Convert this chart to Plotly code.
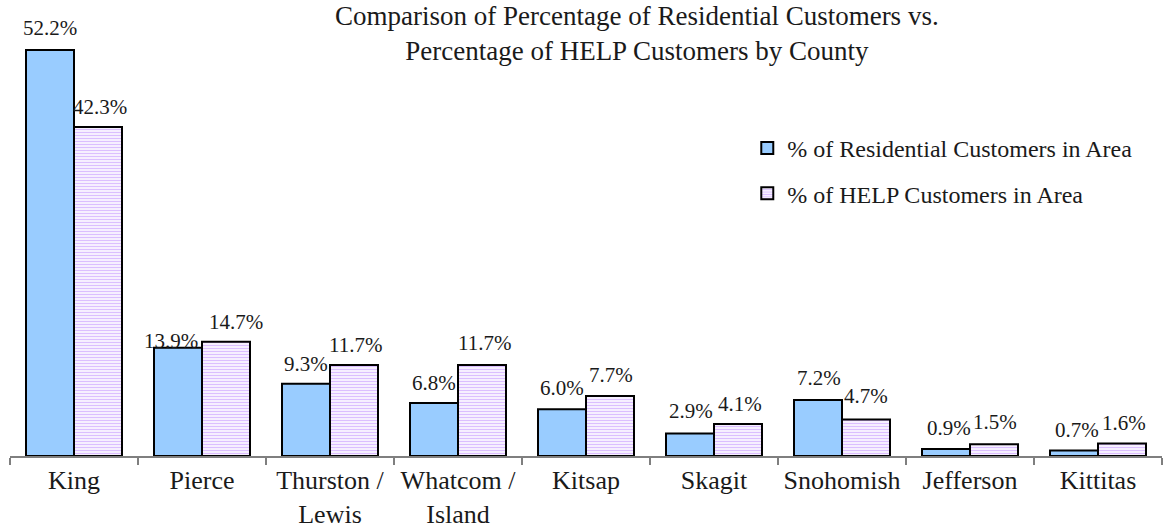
import plotly.graph_objects as go

counties = ["King", "Pierce", "Thurston /<br>Lewis", "Whatcom /<br>Island", "Kitsap",
            "Skagit", "Snohomish", "Jefferson", "Kittitas"]
residential = [52.2, 13.9, 9.3, 6.8, 6.0, 2.9, 7.2, 0.9, 0.7]
help_pct = [42.3, 14.7, 11.7, 11.7, 7.7, 4.1, 4.7, 1.5, 1.6]
series_names = ["% of Residential Customers in Area", "% of HELP Customers in Area"]
title_text = ("Comparison of Percentage of Residential Customers vs.<br>"
              "Percentage of HELP Customers by County")

# label placement tweaks (pixels) to mimic the original hand-placed labels
res_label_dx = [0, -7, 0, 0, 0, 1, 1, 3, 3]
res_label_dy = [22, 7, 20, 20, 21, 22, 22, 21, 21]
help_label_dx = [2, 10, 1, 2, 1, 2, 0, 1, 2]
help_label_dy = [20, 20, 20, 22, 21, 20, 23, 22, 21]

font_family = "Liberation Serif, Times New Roman, serif"
text_color = "#1a1a1a"
bar_half_offset = 24  # px: half of one bar width inside each group

fig = go.Figure()
fig.add_trace(go.Bar(
    x=counties, y=residential, name=series_names[0],
    marker=dict(color="#99ccff", line=dict(color="black", width=2)),
    legendgroup="a",
))
fig.add_trace(go.Bar(
    x=counties, y=help_pct, name=series_names[1],
    marker=dict(color="white", line=dict(color="black", width=2),
                pattern=dict(shape="-", fgcolor="#b77fff", bgcolor="white",
                             size=3, solidity=0.5)),
    legendgroup="b",
))

annotations = []
for i, c in enumerate(counties):
    annotations.append(dict(
        x=c, y=residential[i], xref="x", yref="y", text=f"{residential[i]:.1f}%",
        showarrow=False, xanchor="center", yanchor="middle",
        xshift=-bar_half_offset + res_label_dx[i], yshift=res_label_dy[i],
        font=dict(size=21, family=font_family, color=text_color)))
    annotations.append(dict(
        x=c, y=help_pct[i], xref="x", yref="y", text=f"{help_pct[i]:.1f}%",
        showarrow=False, xanchor="center", yanchor="middle",
        xshift=bar_half_offset + help_label_dx[i], yshift=help_label_dy[i],
        font=dict(size=21, family=font_family, color=text_color)))

annotations.append(dict(
    x=0.544, y=0.968, xref="paper", yref="paper", text=title_text,
    showarrow=False, xanchor="center", yanchor="middle",
    font=dict(size=27, family=font_family, color=text_color)))

fig.update_layout(
    width=1163, height=531,
    paper_bgcolor="white", plot_bgcolor="white",
    margin=dict(l=10, r=1, t=20, b=75, autoexpand=False),
    font=dict(family=font_family, color=text_color),
    barmode="group", bargap=0.25, bargroupgap=0,
    legend=dict(x=0.640, y=0.757, xanchor="left", yanchor="top",
                font=dict(size=24, family=font_family, color=text_color),
                tracegroupgap=11, bgcolor="rgba(0,0,0,0)"),
    showlegend=True,
    annotations=annotations,
)
fig.update_xaxes(showline=True, linecolor="#7f7f7f", linewidth=1.5, ticks="outside",
                 tickson="boundaries", ticklen=7, tickcolor="#7f7f7f", tickwidth=1.5,
                 ticklabelstandoff=0, automargin=False,
                 tickfont=dict(size=26, family=font_family, color=text_color))
fig.update_yaxes(range=[0, 56.04], visible=False, showgrid=False, automargin=False)

fig.write_html("out.html", config={"displayModeBar": False},
               post_script="document.body.style.margin='0';")
